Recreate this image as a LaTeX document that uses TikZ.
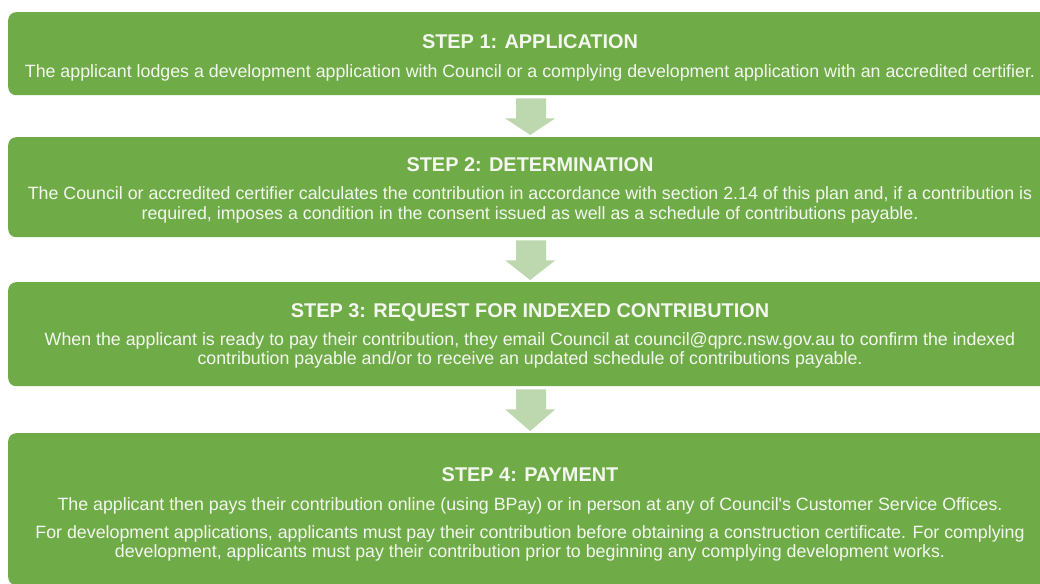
\documentclass[tikz,border=0pt]{standalone}
\usepackage{fontspec}
\setmainfont{Liberation Sans}[Ligatures=TeXOff]
\usetikzlibrary{calc}
\definecolor{stepgreen}{HTML}{6FAC47}
\definecolor{flowgreen}{HTML}{BDD7AE}
\definecolor{steptext}{HTML}{F4F7F0}
\begin{document}
\begin{tikzpicture}[x=1pt,y=-1pt,
  stepbox/.style={fill=stepgreen, draw=none, rounded corners=8pt,
    minimum width=1044pt, anchor=north west, inner sep=0pt},
  steptitle/.style={text=steptext, anchor=base, inner sep=0pt,
    font=\bfseries\fontsize{19.9}{22}\selectfont},
  stepline/.style={text=steptext, anchor=base, inner sep=0pt,
    font=\fontsize{17.8}{20}\selectfont},
  flowarrow/.style={fill=flowgreen, draw=none}]
\useasboundingbox (0,0) rectangle (1040,583);

% step boxes (they run off the right edge)
\node[stepbox, minimum height=83pt]  (s1) at (8,12)  {};
\node[stepbox, minimum height=100pt] (s2) at (8,137) {};
\node[stepbox, minimum height=104pt] (s3) at (8,282) {};
\node[stepbox, minimum height=152pt] (s4) at (8,433) {};

% block arrows between consecutive steps
\newcommand{\flowdown}[2]{%
  \fill[flowarrow]
    ($(#1.south)+(-14,3)$) -- ($(#1.south)+(16,3)$)
    -- ($(#1.south)+(16,23)$) -- ($(#1.south)+(25,23)$)
    -- ($(#2.north)+(0,-2)$)
    -- ($(#1.south)+(-25,23)$) -- ($(#1.south)+(-14,23)$) -- cycle;}
\flowdown{s1}{s2}
\flowdown{s2}{s3}
\flowdown{s3}{s4}

% step 1
\node[steptitle] (t1) at (530,48.5) {STEP 1: APPLICATION};
\node[stepline] (b1a) at (530,77.5) {The applicant lodges a development application with Council or a complying development application with an accredited certifier.};

% step 2
\node[steptitle] (t2) at (530,171) {STEP 2: DETERMINATION};
\node[stepline] (b2a) at (530,199.5) {The Council or accredited certifier calculates the contribution in accordance with section 2.14 of this plan and, if a contribution is};
\node[stepline] (b2b) at (530,219) {required, imposes a condition in the consent issued as well as a schedule of contributions payable.};

% step 3
\node[steptitle] (t3) at (530,317.5) {STEP 3: REQUEST FOR INDEXED CONTRIBUTION};
\node[stepline] (b3a) at (530,345) {When the applicant is ready to pay their contribution, they email Council at council@qprc.nsw.gov.au to confirm the indexed};
\node[stepline] (b3b) at (530,364.5) {contribution payable and/or to receive an updated schedule of contributions payable.};

% step 4
\node[steptitle] (t4) at (530,481.5) {STEP 4: PAYMENT};
\node[stepline] (b4a) at (530,510.5) {The applicant then pays their contribution online (using BPay) or in person at any of Council's Customer Service Offices.};
\node[stepline] (b4b) at (530,538) {For development applications, applicants must pay their contribution before obtaining a construction certificate. For complying};
\node[stepline] (b4c) at (530,557.5) {development, applicants must pay their contribution prior to beginning any complying development works.};
\end{tikzpicture}
\end{document}
